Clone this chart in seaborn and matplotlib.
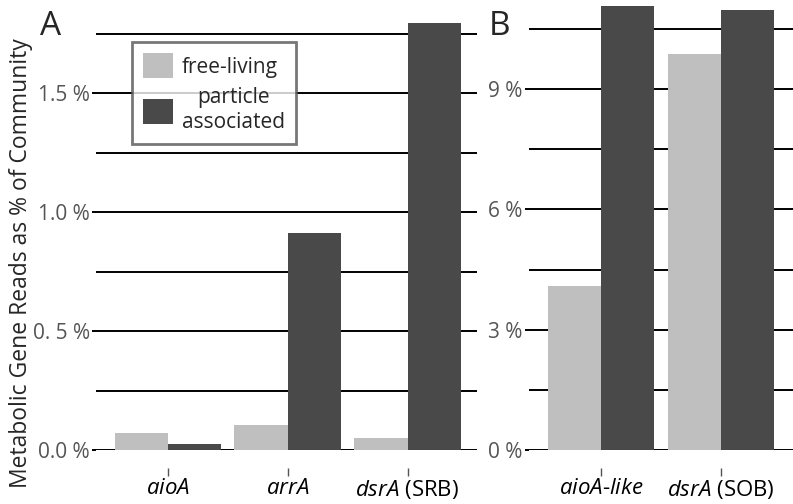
import pandas as pd
import seaborn as sns
import matplotlib.pyplot as plt
from matplotlib.ticker import MultipleLocator

# panel A: arsenic / sulfate reducers
genes_a = ["aioA", "arrA", "dsrA (SRB)"]
labels_a = [r"$\it{aioA}$", r"$\it{arrA}$", r"$\it{dsrA}$ (SRB)"]
free_a = [0.073, 0.105, 0.052]
particle_a = [0.024, 0.913, 1.795]
yticks_a = [0.0, 0.5, 1.0, 1.5]
yticklabels_a = ["0.0 %", "0. 5 %", "1.0 %", "1.5 %"]

# panel B: oxidizers
genes_b = ["aioA-like", "dsrA (SOB)"]
labels_b = [r"$\it{aioA}$-$\it{like}$", r"$\it{dsrA}$ (SOB)"]
free_b = [4.1, 9.87]
particle_b = [11.06, 10.98]
yticks_b = [0, 3, 6, 9]
yticklabels_b = ["0 %", "3 %", "6 %", "9 %"]

fractions = ["free-living", "particle\nassociated"]
colors = ["#bfbfbf", "#494949"]

def long_form(genes, free, particle):
    return pd.DataFrame({
        "gene": genes * 2,
        "pct": free + particle,
        "fraction": [fractions[0]] * len(genes) + [fractions[1]] * len(genes),
    })

sns.set_style("white")
plt.rcParams["font.family"] = ["Open Sans", "DejaVu Sans"]
plt.rcParams["mathtext.fontset"] = "custom"
plt.rcParams["mathtext.rm"] = "Open Sans"
plt.rcParams["mathtext.it"] = "Open Sans:italic"

fig = plt.figure(figsize=(7.93, 5.04), dpi=100)
bottom = 54 / 504
height = 446 / 504
axA = fig.add_axes([96 / 793, bottom, 381 / 793, height])
axB = fig.add_axes([529 / 793, bottom, 264 / 793, height])

panels = [
    (axA, long_form(genes_a, free_a, particle_a), labels_a, yticks_a, yticklabels_a, 0.25, 1.874, 2.58),
    (axB, long_form(genes_b, free_b, particle_b), labels_b, yticks_b, yticklabels_b, 1.5, 11.12, 1.6),
]

for ax, df, xlabels, yt, ytl, minor, ytop, xright in panels:
    sns.barplot(data=df, x="gene", y="pct", hue="fraction", hue_order=fractions,
                palette=colors, width=0.89, saturation=1, ax=ax, legend=(ax is axA))
    for bar in ax.patches:
        bar.set_edgecolor("none")
        bar.set_clip_on(False)
    ax.set_ylim(0, ytop)
    ax.set_xlim(-0.6, xright)
    ax.set_yticks(yt, labels=ytl)
    ax.yaxis.set_minor_locator(MultipleLocator(minor))
    ax.grid(axis="y", which="both", color="black", linewidth=1.4)
    ax.set_axisbelow(True)
    ax.set_xticks(range(len(xlabels)), labels=xlabels)
    ax.set_xlabel("")
    ax.set_ylabel("")
    for s in ["top", "right", "left"]:
        ax.spines[s].set_visible(False)
    ax.spines["bottom"].set_visible(False)
    ax.spines["bottom"].set_position(("outward", 13))
    ax.tick_params(axis="x", which="major", length=6, width=1, color="#555555",
                   direction="out", bottom=True, labelsize=16, pad=1, labelcolor="black")
    ax.tick_params(axis="y", which="major", length=3, width=1.4, color="black",
                   left=True, labelsize=15, labelcolor="#555555", pad=1.5)
    ax.tick_params(axis="y", which="minor", length=0)

leg = axA.legend(loc="upper left", bbox_to_anchor=(0.094, 0.915), borderaxespad=0,
                 fontsize=15, frameon=True, fancybox=False, edgecolor="#555555",
                 handlelength=1.45, handleheight=1.45, handletextpad=0.4,
                 labelspacing=0.45, borderpad=0.55)
leg.get_frame().set_linewidth(2)
for t in leg.get_texts():
    t.set_multialignment("center")

fig.text(0.026, 0.478, "Metabolic Gene Reads as % of Community", rotation=90,
         ha="center", va="center", fontsize=16.5)
fig.text(0.05, 0.93, "A", fontsize=24, ha="left", va="baseline")
fig.text(0.616, 0.93, "B", fontsize=24, ha="left", va="baseline")

fig.savefig("out.png", dpi=100)
